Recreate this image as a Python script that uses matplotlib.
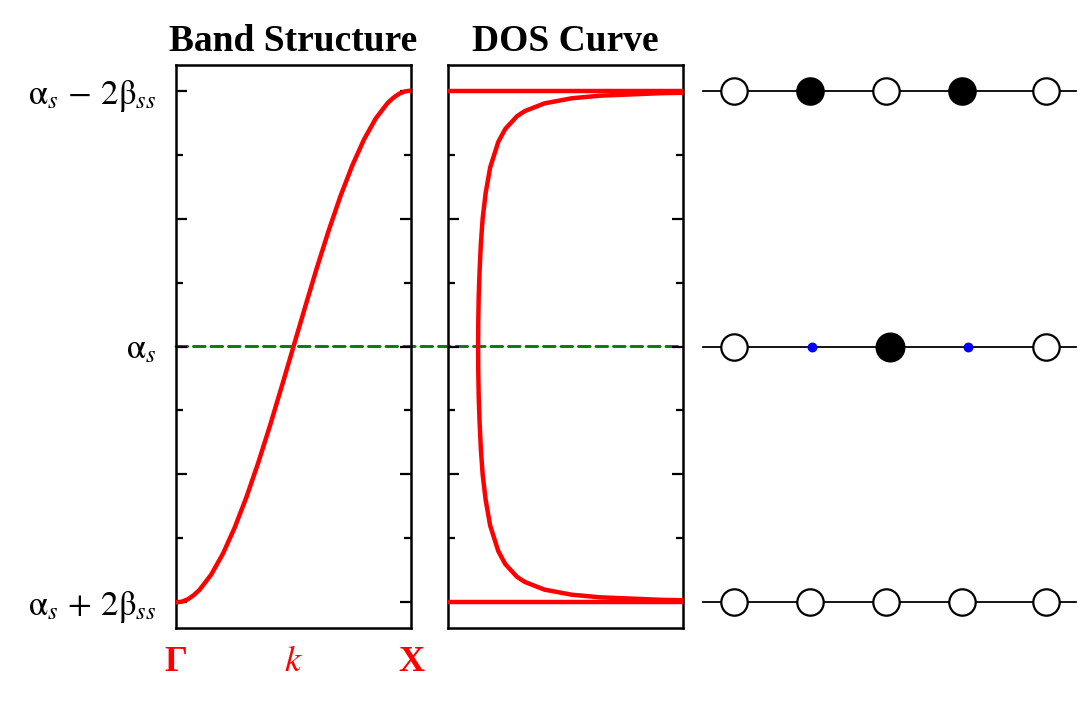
import matplotlib
matplotlib.use("Agg")
import matplotlib.pyplot as plt
from matplotlib.patches import ConnectionPatch
from matplotlib.ticker import MultipleLocator

plt.rcParams['mathtext.fontset'] = 'stix'
plt.rcParams['font.family'] = 'STIXGeneral'

# band structure, k as fraction of the way from Gamma to X
k_frac = [0.00, 0.025, 0.05, 0.075, 0.10, 0.15, 0.20, 0.25, 0.30, 0.35, 0.40, 0.45, 0.50,
          0.55, 0.60, 0.65, 0.70, 0.75, 0.80, 0.85, 0.90, 0.925, 0.95, 0.975, 1.00]
band_E = [-1.00, -0.997, -0.988, -0.972, -0.951, -0.891, -0.809, -0.707, -0.588, -0.454, -0.309, -0.156, 0.00,
          0.156, 0.309, 0.454, 0.588, 0.707, 0.809, 0.891, 0.951, 0.972, 0.988, 0.997, 1.00]

# density of states
dos_E = [-0.999, -0.995, -0.99, -0.98, -0.97, -0.95, -0.92, -0.90, -0.85, -0.80, -0.70,
         -0.60, -0.50, -0.40, -0.30, -0.20, -0.10, 0.00, 0.10, 0.20, 0.30, 0.40,
         0.50, 0.60, 0.70, 0.80, 0.85, 0.90, 0.92, 0.95, 0.97, 0.98, 0.99, 0.995, 0.999]
dos_val = [22.4, 10.0, 7.09, 5.03, 4.11, 3.20, 2.55, 2.29, 1.90, 1.67, 1.40,
           1.25, 1.15, 1.09, 1.05, 1.02, 1.005, 1.00, 1.005, 1.02, 1.05, 1.09,
           1.15, 1.25, 1.40, 1.67, 1.90, 2.29, 2.55, 3.20, 4.11, 5.03, 7.09, 10.0, 22.4]
band_edges = [-1.0, 1.0]
fermi = 0.0

ytick_labels = [r'$\mathrm{\alpha}_{s}\,+\,2\mathrm{\beta}_{ss}$', r'$\mathrm{\alpha}_{s}$',
                r'$\mathrm{\alpha}_{s}\,-\,2\mathrm{\beta}_{ss}$']
xtick_vals = [0.0, 0.5, 1.0]

# orbital pictures for the chain: E level, site positions, fill, size
chain_rows = [
    (1.0, [0, 1, 2, 3, 4.1], ['white', 'black', 'white', 'black', 'white'], [19, 19, 19, 19, 19]),
    (0.0, [0, 1.03, 2.05, 3.08, 4.1], ['white', 'blue', 'black', 'blue', 'white'], [19, 5.5, 20, 5.5, 19]),
    (-1.0, [0, 1, 2, 3, 4.1], ['white'] * 5, [19, 19, 19, 19, 19]),
]
chain_line = [-0.41, 4.5]

fig = plt.figure(figsize=(10.78, 7.07), dpi=100)
ax1 = fig.add_axes([176 / 1078, 79 / 707, 235 / 1078, 563 / 707])
ax2 = fig.add_axes([448 / 1078, 79 / 707, 235 / 1078, 563 / 707], sharey=ax1)
ax3 = fig.add_axes([700 / 1078, 79 / 707, 378 / 1078, 563 / 707], sharey=ax1)

for ax in (ax1, ax2):
    ax.set_facecolor('none')
    for s in ax.spines.values():
        s.set_linewidth(1.8)
    ax.yaxis.set_major_locator(MultipleLocator(0.5))
    ax.yaxis.set_minor_locator(MultipleLocator(0.25))
    ax.tick_params(axis='y', which='both', direction='in', left=True, right=True, width=1.6)
    ax.tick_params(axis='y', which='major', length=8)
    ax.tick_params(axis='y', which='minor', length=4.7)
    ax.tick_params(axis='x', length=0)

ax1.set_ylim(-1.1, 1.1)

# band structure
ax1.plot(k_frac, band_E, color='red', lw=3.2, zorder=3)
ax1.set_xlim(0, 1)
ax1.set_yticks([-1, -0.5, 0, 0.5, 1])
ax1.set_yticklabels([ytick_labels[0], '', ytick_labels[1], '', ytick_labels[2]], fontsize=25)
ax1.tick_params(axis='y', pad=14)
ax1.set_xticks(xtick_vals)
ax1.set_xticklabels(['Γ', '$k$', 'X'], fontsize=26, color='red')
ax1.tick_params(axis='x', pad=13)
for lab, wt in zip(ax1.get_xticklabels(), ['bold', 'normal', 'bold']):
    lab.set_fontweight(wt)
    lab.set_family('Liberation Serif')
ax1.set_title('Band Structure', fontsize=27, fontweight='bold', family='Liberation Serif', pad=10)

# DOS
for e in band_edges:
    ax2.axhline(e, color='red', lw=3.2, zorder=3)
ax2.plot(dos_val, dos_E, color='red', lw=3.2, zorder=3)
ax2.set_xlim(0, 7.8)
ax2.set_xticks([])
ax2.tick_params(axis='y', labelleft=False)
ax2.set_title('DOS Curve', fontsize=27, fontweight='bold', family='Liberation Serif', pad=10)

# fermi level across both panels
con = ConnectionPatch(xyA=(0, fermi), coordsA=ax1.transData, xyB=(7.8, fermi), coordsB=ax2.transData,
                      color='#008000', lw=2.1, linestyle=(0, (4, 2)), zorder=-1)
fig.add_artist(con)

# chain orbitals
ax3.axis('off')
ax3.set_xlim(-0.447, 4.526)
for y, xs, fills, sizes in chain_rows:
    ax3.plot(chain_line, [y, y], color='black', lw=1.3, zorder=1)
    for x, f, ms in zip(xs, fills, sizes):
        ec = 'blue' if f == 'blue' else 'black'
        ax3.plot([x], [y], 'o', ms=ms, mfc=f, mec=ec, mew=1.6, zorder=2)

fig.savefig('out.png', dpi=100)
